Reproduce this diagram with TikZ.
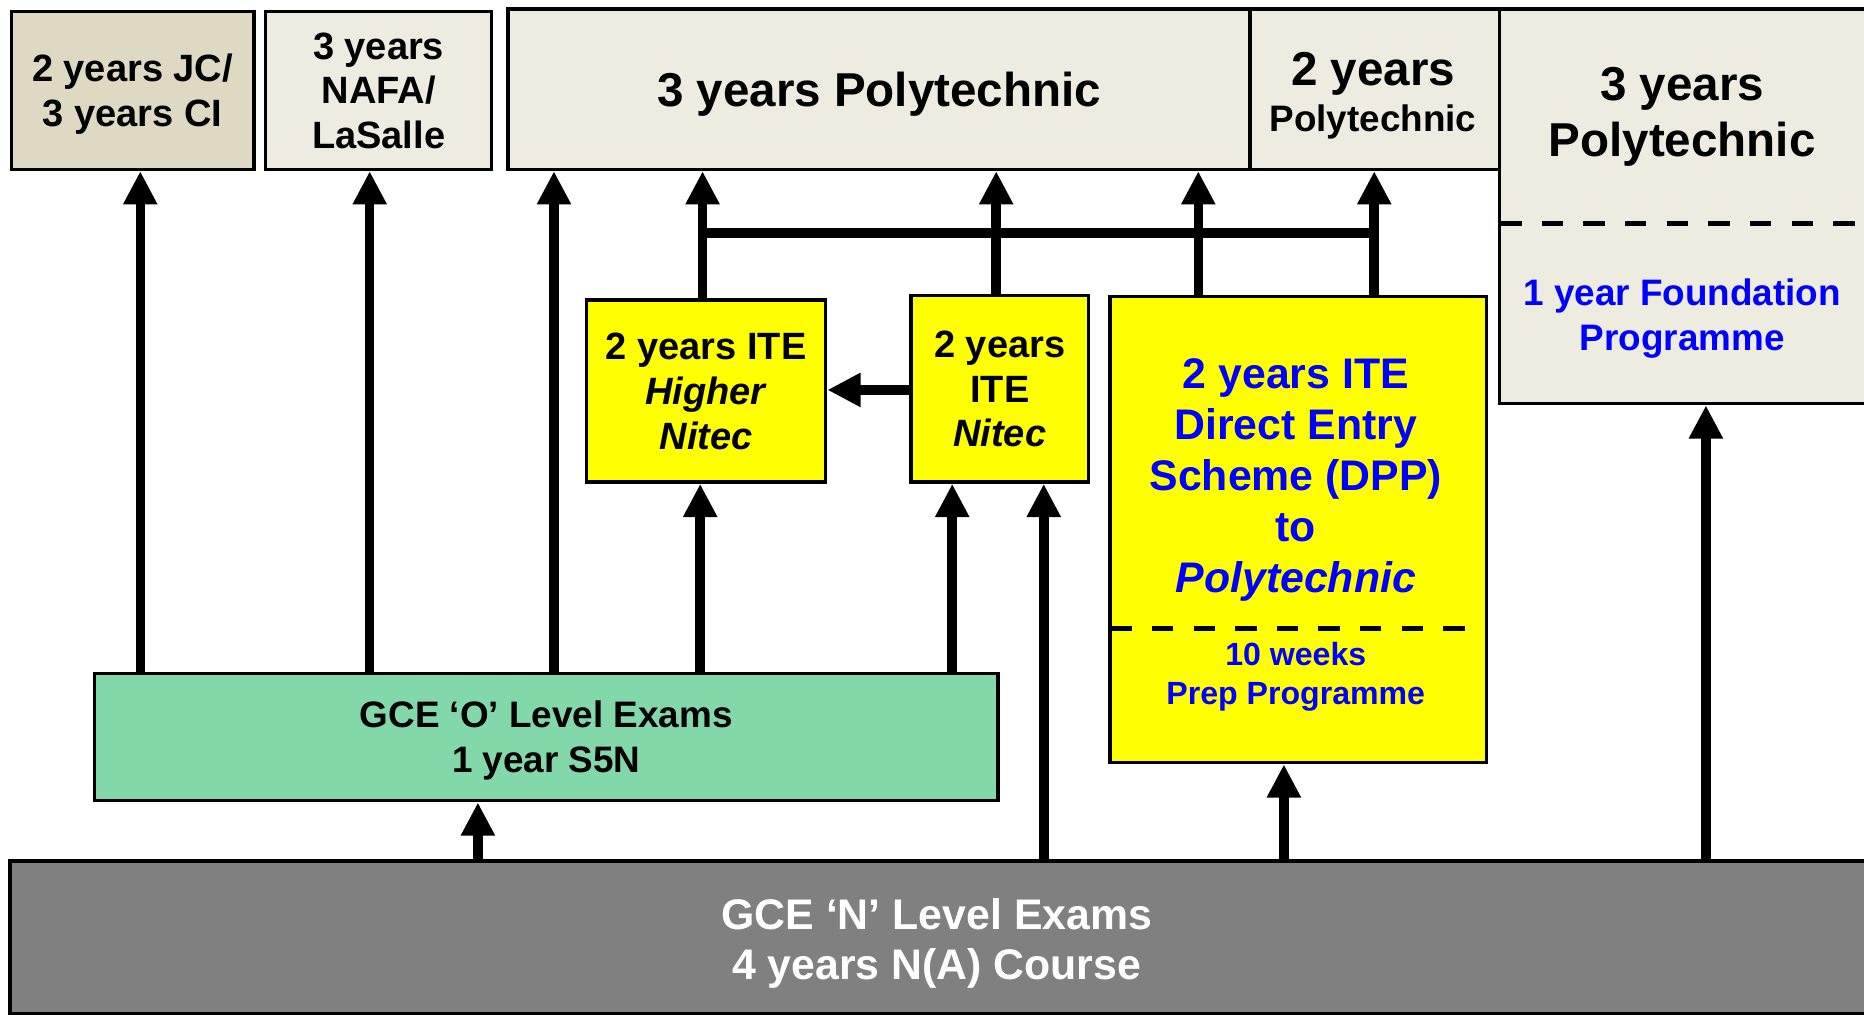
\documentclass[tikz,border=0pt]{standalone}
\usepackage{fontspec}
\setmainfont{Liberation Sans}
\usetikzlibrary{arrows.meta}
\definecolor{beige}{HTML}{EEEBE0}
\definecolor{tanbox}{HTML}{DDD9C3}
\definecolor{ylw}{HTML}{FFFF00}
\definecolor{grn}{HTML}{82D8A8}
\definecolor{gry}{HTML}{808080}
\definecolor{blu}{HTML}{0000FF}
\newcommand{\fsz}[2]{\fontsize{#1pt}{#2pt}\selectfont}
\begin{document}
\begin{tikzpicture}[x=1pt,y=-1pt,
  box/.style={draw=black, line width=3pt, rectangle, inner sep=0pt, anchor=north west, align=center, text depth=0pt},
  txt/.style={inner sep=0pt, align=center, text depth=0pt},
  arr/.style={line width=8pt, -{Triangle[length=28pt,width=27pt]}},
  bar/.style={line width=9pt},
  dsh/.style={line width=4pt, dash pattern=on 18pt off 17pt}]
\useasboundingbox (0,0) rectangle (1568,853);
% top row
\node[box, fill=tanbox, minimum width=204pt, minimum height=133pt, font=\bfseries\fsz{32}{38}] (jc) at (8,8) {2 years JC/\\3 years CI};
\node[box, fill=beige, minimum width=190pt, minimum height=133pt, font=\bfseries\fsz{32}{37.5}] (nafa) at (222,8) {3 years\\NAFA/\\LaSalle};
\node[box, fill=beige, minimum width=624pt, minimum height=135pt, font=\bfseries\fsz{40}{47}] (poly3) at (426,6) {3 years Polytechnic};
\node[box, fill=beige, minimum width=210pt, minimum height=135pt] (poly2) at (1050,6) {};
\node[txt, font=\bfseries\fsz{40}{47}] (p2a) at (1155,58) {2 years};
\node[txt, font=\bfseries\fsz{31}{37}] (p2b) at (1155,99) {Polytechnic};
\node[box, fill=beige, minimum width=312pt, minimum height=332pt] (polyR) at (1260,6) {};
\node[txt, font=\bfseries\fsz{40}{47}] (pRa) at (1415,94) {3 years\\Polytechnic};
\node[txt, font=\bfseries\fsz{31}{38}, text=blu] (pRb) at (1415,265) {1 year Foundation\\Programme};
\coordinate (dR1) at (1262,188);
\coordinate (dR2) at (1570,188);
\draw[dsh] (dR1) -- (dR2);
% ITE boxes
\node[box, fill=ylw, minimum width=201pt, minimum height=153pt, font=\bfseries\fsz{32}{38}] (hn) at (492,251) {2 years ITE\\\textit{Higher}\\\textit{Nitec}};
\node[box, fill=ylw, minimum width=149pt, minimum height=157pt, font=\bfseries\fsz{32}{37.5}] (nit) at (765,247) {2 years\\ITE\\\textit{Nitec}};
\node[box, fill=ylw, minimum width=317pt, minimum height=392pt] (dpp) at (932,248) {};
\node[txt, font=\bfseries\fsz{36}{43}, text=blu] (dppa) at (1090,400) {2 years ITE\\Direct Entry\\Scheme (DPP)\\to\\\textit{Polytechnic}};
\node[txt, font=\bfseries\fsz{27}{33}, text=blu] (dppb) at (1090,566.5) {10 weeks\\Prep Programme};
\coordinate (dD1) at (934,529);
\coordinate (dD2) at (1242,529);
\draw[dsh] (dD1) -- (dD2);
% bottom boxes
\node[box, fill=grn, minimum width=760pt, minimum height=107pt, font=\bfseries\fsz{31}{38}] (gco) at (78,565) {GCE ‘O’ Level Exams\\1 year S5N};
\node[box, fill=gry, minimum width=1575pt, minimum height=128pt] (gcn) at (7,723) {};
\node[txt, font=\bfseries\fsz{36}{42}, text=white] (gcnt) at (788,790) {GCE ‘N’ Level Exams\\4 years N(A) Course};
% x positions
\coordinate (c118) at (118,0);
\coordinate (c311) at (311,0);
\coordinate (c402) at (402,0);
\coordinate (c466) at (466,0);
\coordinate (c589) at (589,0);
\coordinate (c591) at (591,0);
\coordinate (c801) at (801,0);
\coordinate (c838) at (838,0);
\coordinate (c878) at (878,0);
\coordinate (c1008) at (1008,0);
\coordinate (c1080) at (1080,0);
\coordinate (c1156) at (1156,0);
\coordinate (c1435) at (1435,0);
\coordinate (y328) at (0,328);
% arrows from O level
\draw[arr] (gco.north -| c118) -- (jc.south -| c118);
\draw[arr] (gco.north -| c311) -- (nafa.south -| c311);
\draw[arr] (gco.north -| c466) -- (poly3.south -| c466);
\draw[arr] (gco.north -| c589) -- (hn.south -| c589);
\draw[arr] (gco.north -| c801) -- (nit.south -| c801);
% arrows from N level
\draw[arr] (gcn.north -| c402) -- (gco.south -| c402);
\draw[arr] (gcn.north -| c878) -- (nit.south -| c878);
\draw[arr] (gcn.north -| c1080) -- (dpp.south -| c1080);
\draw[arr] (gcn.north -| c1435) -- (polyR.south -| c1435);
% ITE to polytechnic
\coordinate (b1) at (591,196);
\coordinate (b2) at (1156,196);
\draw[bar] (b1) -- (b2);
\draw[arr] (hn.north -| c591) -- (poly3.south -| c591);
\draw[arr] (nit.north -| c838) -- (poly3.south -| c838);
\draw[arr] (dpp.north -| c1008) -- (poly3.south -| c1008);
\draw[arr] (dpp.north -| c1156) -- (poly2.south -| c1156);
\draw[arr] (nit.west |- y328) -- (hn.east |- y328);
\end{tikzpicture}
\end{document}
